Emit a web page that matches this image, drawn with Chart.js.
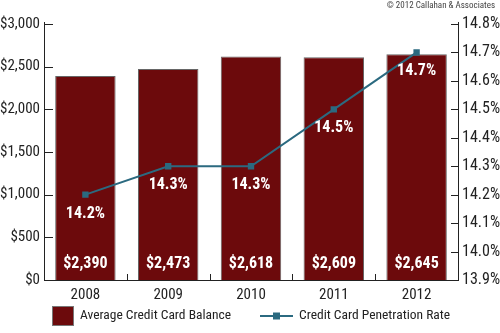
<!DOCTYPE html>
<html>
<head>
<meta charset="utf-8">
<script src="https://cdn.jsdelivr.net/npm/chart.js@4"></script>
<style>
  html, body { margin: 0; padding: 0; background: #fff; }
  #wrap { width: 500px; height: 333px; position: relative; }
</style>
</head>
<body>
<div id="wrap"><canvas id="c" width="500" height="333"></canvas></div>
<script>
const years = ['2008', '2009', '2010', '2011', '2012'];
const avgBalance = [2390, 2473, 2618, 2609, 2645];
const penetrationRate = [14.2, 14.3, 14.3, 14.5, 14.7];
const balanceLabels = ['$2,390', '$2,473', '$2,618', '$2,609', '$2,645'];
const rateLabels = ['14.2%', '14.3%', '14.3%', '14.5%', '14.7%'];

const FONT = '"Liberation Sans Narrow", "Arial Narrow", "Roboto Condensed", sans-serif';
const BAR = '#6c0a0c';
const LINE = '#2b6a80';
const AXIS = '#222';

const decor = {
  id: 'decor',
  afterDatasetsDraw(chart) {
    const ctx = chart.ctx;
    const x = chart.scales.x, yl = chart.scales.y, yr = chart.scales.y1;
    const area = chart.chartArea;
    ctx.save();
    // axis lines
    ctx.strokeStyle = AXIS;
    ctx.lineWidth = 1;
    ctx.beginPath();
    ctx.moveTo(Math.round(area.left) + 0.5, area.top - 2);
    ctx.lineTo(Math.round(area.left) + 0.5, area.bottom);
    ctx.moveTo(Math.round(area.right) + 0.5, area.top - 2);
    ctx.lineTo(Math.round(area.right) + 0.5, area.bottom);
    ctx.moveTo(area.left, Math.round(area.bottom) + 0.5);
    ctx.lineTo(area.right + 1, Math.round(area.bottom) + 0.5);
    // inward tick marks
    yl.ticks.forEach(t => {
      const py = Math.round(yl.getPixelForValue(t.value)) + 0.5;
      ctx.moveTo(area.left, py); ctx.lineTo(area.left + 9, py);
    });
    yr.ticks.forEach(t => {
      const py = Math.round(yr.getPixelForValue(t.value)) + 0.5;
      ctx.moveTo(area.right + 1, py); ctx.lineTo(area.right - 7, py);
    });
    for (let i = 1; i < years.length; i++) {
      const px = Math.round((x.getPixelForValue(i - 1) + x.getPixelForValue(i)) / 2) + 0.5;
      ctx.moveTo(px, area.bottom); ctx.lineTo(px, area.bottom - 6);
    }
    ctx.stroke();

    // value labels
    ctx.fillStyle = '#fff';
    ctx.textAlign = 'center';
    ctx.textBaseline = 'middle';
    ctx.font = 'bold 16px ' + FONT;
    const barMeta = chart.getDatasetMeta(0);
    barMeta.data.forEach((el, i) => {
      ctx.fillText(balanceLabels[i], el.x, area.bottom - 16);
    });
    const lineMeta = chart.getDatasetMeta(1);
    lineMeta.data.forEach((el, i) => {
      ctx.fillText(rateLabels[i], el.x, el.y + 19);
    });

    // legend
    const ly = 316;
    ctx.fillStyle = BAR;
    ctx.fillRect(52, ly - 10, 22, 20);
    ctx.strokeStyle = '#777';
    ctx.strokeRect(52.5, ly - 9.5, 21, 19);
    ctx.fillStyle = '#222';
    ctx.textAlign = 'left';
    ctx.font = '13.5px ' + FONT;
    ctx.fillText('Average Credit Card Balance', 80, ly);
    ctx.strokeStyle = LINE;
    ctx.lineWidth = 2;
    ctx.beginPath();
    ctx.moveTo(260, ly); ctx.lineTo(293, ly);
    ctx.stroke();
    ctx.fillStyle = LINE;
    ctx.fillRect(273, ly - 3.5, 7, 7);
    ctx.fillStyle = '#222';
    ctx.fillText('Credit Card Penetration Rate', 299, ly);

    // credit line
    ctx.font = '9px ' + FONT;
    ctx.fillStyle = '#444';
    ctx.textAlign = 'right';
    ctx.fillText('\u00A9 2012 Callahan & Associates', 495, 6);
    ctx.restore();
  }
};

new Chart(document.getElementById('c'), {
  data: {
    labels: years,
    datasets: [
      {
        type: 'bar',
        label: 'Average Credit Card Balance',
        data: avgBalance,
        yAxisID: 'y',
        backgroundColor: BAR,
        borderColor: '#666',
        borderWidth: 1,
        barPercentage: 0.73,
        categoryPercentage: 1.0,
        order: 2
      },
      {
        type: 'line',
        label: 'Credit Card Penetration Rate',
        data: penetrationRate,
        yAxisID: 'y1',
        borderColor: LINE,
        borderWidth: 2,
        backgroundColor: LINE,
        pointStyle: 'rect',
        pointRadius: 4.5,
        pointBorderWidth: 0,
        pointBackgroundColor: LINE,
        tension: 0,
        order: 1
      }
    ]
  },
  options: {
    responsive: false,
    animation: false,
    devicePixelRatio: 1,
    layout: { padding: { top: 24, bottom: 23, left: 0, right: 0 } },
    plugins: { legend: { display: false }, tooltip: { enabled: false } },
    scales: {
      x: {
        offset: true,
        grid: { display: false, drawTicks: false },
        border: { display: false },
        ticks: { color: '#222', font: { family: FONT, size: 15 }, padding: 6 }
      },
      y: {
        position: 'left',
        min: 0, max: 3000,
        afterFit(s) { s.width = 44; },
        grid: { display: false, drawTicks: false },
        border: { display: false },
        ticks: {
          stepSize: 500,
          color: '#222',
          padding: 4,
          font: { family: FONT, size: 15 },
          callback: v => '$' + v.toLocaleString('en-US')
        }
      },
      y1: {
        position: 'right',
        min: 13.9, max: 14.8,
        afterFit(s) { s.width = 42; },
        grid: { display: false, drawTicks: false },
        border: { display: false },
        ticks: {
          stepSize: 0.1,
          color: '#222',
          padding: 4,
          font: { family: FONT, size: 16 },
          callback: v => v.toFixed(1) + '%'
        }
      }
    }
  },
  plugins: [decor]
});
</script>
</body>
</html>
